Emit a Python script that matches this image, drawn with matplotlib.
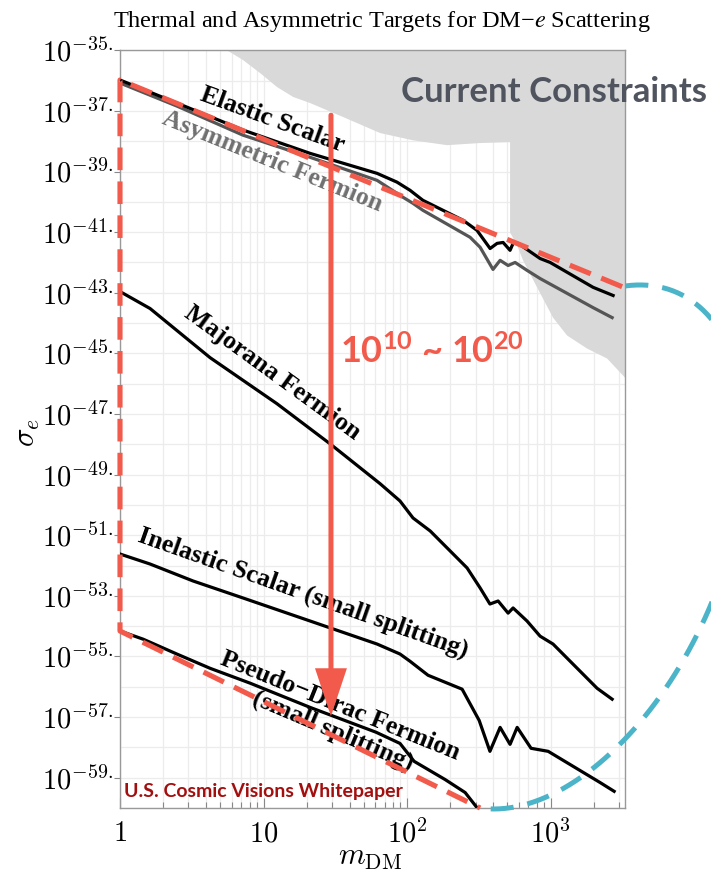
import numpy as np
import matplotlib
matplotlib.use("Agg")
import matplotlib.pyplot as plt
from matplotlib.patches import FancyArrowPatch

# ---------------- data ----------------
elastic_m = [1, 2.49, 7.19, 21.1, 61.8, 85.1, 105, 129, 246, 307, 379, 424, 467, 522, 548, 594, 845, 993, 1977, 2727]
elastic_logsig = [-35.98, -36.74, -37.63, -38.40, -39.06, -39.35, -39.62, -39.95, -40.61, -40.94,
                  -41.54, -41.37, -41.34, -41.60, -41.37, -41.37, -41.87, -42.00, -42.82, -43.09]

asym_m = [1, 2.49, 7.19, 21.1, 61.8, 93.8, 110, 129, 275, 323, 397, 445, 506, 566, 685, 845, 1977, 2685]
asym_logsig = [-36.08, -36.84, -37.80, -38.53, -39.29, -39.85, -40.05, -40.28, -41.17, -41.50,
               -42.23, -41.93, -42.10, -42.00, -42.26, -42.53, -43.49, -43.82]

majorana_m = [1, 1.62, 4.24, 12.4, 29.0, 64.9, 89.3, 110, 145, 262, 323, 378, 431, 506, 548, 685, 845, 1040, 2109, 2685]
majorana_logsig = [-42.96, -43.52, -45.14, -46.66, -47.98, -49.30, -49.87, -50.43, -50.86, -52.08,
                   -52.74, -53.27, -53.17, -53.57, -53.40, -53.83, -54.33, -54.59, -56.05, -56.41]

inelastic_m = [1, 1.62, 3.23, 7.19, 21.1, 61.8, 89.3, 105, 140, 242, 318, 378, 445, 522, 585, 731, 962, 2213, 2773]
inelastic_logsig = [-51.62, -51.95, -52.51, -53.07, -53.83, -54.59, -54.92, -55.16, -55.62, -56.08,
                    -57.11, -58.13, -57.34, -57.90, -57.34, -58.03, -58.13, -59.16, -59.45]

pseudo_m = [1, 1.45, 2.49, 4.24, 8.05, 21.1, 60.8, 89.3, 112, 184, 254, 318]
pseudo_logsig = [-54.16, -54.43, -54.92, -55.39, -55.88, -56.68, -57.50, -57.87, -58.46, -59.06, -59.49, -60.08]

constraint_m = [5.57, 7.19, 9.46, 12.4, 16.1, 21.1, 35.8, 64.9, 110, 190, 323, 522,
                522, 585, 643, 805, 1040, 1303, 1795, 2477, 3300, 3300]
constraint_logsig = [-35.0, -35.32, -35.75, -36.21, -36.54, -36.74, -37.20, -37.73, -37.97, -38.13, -38.06, -38.03,
                     -41.01, -41.44, -41.93, -42.82, -43.82, -44.41, -44.84, -45.17, -45.80, -35.0]

# red dashed guide (top diagonal -> left edge -> bottom diagonal)
guide_m = [3150, 1, 1, 323]
guide_logsig = [-42.80, -35.98, -54.16, -60.0]

# red arrow
arrow_m = 29.5
arrow_logsig_top = -37.14
arrow_logsig_tip = -56.97

x_ticks = [1, 10, 100, 1000]
x_ticklabels = [r'$1$', r'$10$', r'$10^2$', r'$10^3$']
y_tick_exps = list(range(-59, -34, 2))

RED = '#F25A4B'
BLUE = '#4BB4C8'

plt.rcParams['mathtext.fontset'] = 'cm'

W, H = 711, 892
fig = plt.figure(figsize=(W / 100, H / 100), dpi=100)
ax_l, ax_r, ax_t, ax_b = 120, 625, 50.3, 808
ax = fig.add_axes([ax_l / W, 1 - ax_b / H, (ax_r - ax_l) / W, (ax_b - ax_t) / H])
ax.set_xscale('log')
ax.set_yscale('log')
ax.set_xlim(1, 3300)
ax.set_ylim(1e-60, 1e-35)
ax.set_axisbelow(True)

# ticks and grid
ax.set_xticks(x_ticks)
ax.set_xticklabels(x_ticklabels, fontsize=20.5)
xminor = [k * 10.0 ** d for d in range(0, 4) for k in range(2, 10) if k * 10.0 ** d < 3300]
ax.set_xticks(xminor, minor=True)
ax.set_xticklabels([], minor=True)
ax.set_yticks([10.0 ** e for e in y_tick_exps])
ax.set_yticklabels([r'$10^{%d.}$' % e for e in y_tick_exps], fontsize=20.5)
ax.set_yticks([10.0 ** e for e in range(-60, -34, 2)], minor=True)
ax.set_yticklabels([], minor=True)
ax.tick_params(axis='x', which='major', direction='in', length=7, width=0.8, color='#888888', pad=8)
ax.tick_params(axis='x', which='minor', direction='in', length=4, width=0.8, color='#888888')
ax.tick_params(axis='y', which='major', direction='out', length=4, width=0.8, color='#888888', pad=1)
ax.tick_params(axis='y', which='minor', length=0)
ax.grid(True, which='both', color='#ececec', lw=0.9)
for s in ax.spines.values():
    s.set_color('#999999')
    s.set_linewidth(1.0)

# constraints region
ax.fill(constraint_m, 10.0 ** np.array(constraint_logsig), color='#d9d9d9', lw=0, zorder=1)

# curves
ax.plot(asym_m, 10.0 ** np.array(asym_logsig), color='#555555', lw=2.3, zorder=3, solid_joinstyle='round')
ax.plot(elastic_m, 10.0 ** np.array(elastic_logsig), color='black', lw=2.3, zorder=3, solid_joinstyle='round')
ax.plot(majorana_m, 10.0 ** np.array(majorana_logsig), color='black', lw=2.3, zorder=3, solid_joinstyle='round')
ax.plot(inelastic_m, 10.0 ** np.array(inelastic_logsig), color='black', lw=2.3, zorder=3, solid_joinstyle='round')
ax.plot(pseudo_m, 10.0 ** np.array(pseudo_logsig), color='black', lw=2.3, zorder=3, solid_joinstyle='round')

# red dashed guide
ax.plot(guide_m, 10.0 ** np.array(guide_logsig), color=RED, lw=3.7, dashes=(4.4, 2.2),
        clip_on=False, zorder=5, solid_capstyle='butt', dash_capstyle='butt')

# blue dashed arc (annotation, axes-fraction coordinates)
t = np.radians(np.linspace(95, -95, 300))
cx, cy = 0.885, 0.3445
ux = 0.3248
vx, vy = 0.1446, 0.3458
ax.plot(cx + ux * np.cos(t) + vx * np.sin(t), cy + vy * np.sin(t), transform=ax.transAxes,
        color=BLUE, lw=3.6, dashes=(4.6, 2.8), clip_on=False, zorder=5, dash_capstyle='butt')

# red arrow
arr = FancyArrowPatch((arrow_m, 10.0 ** arrow_logsig_top), (arrow_m, 10.0 ** arrow_logsig_tip),
                      arrowstyle='-|>,head_length=1.35,head_width=0.45', mutation_scale=20,
                      lw=3.6, color=RED, shrinkA=0, shrinkB=0, zorder=6, joinstyle='miter')
ax.add_patch(arr)

# curve labels
lab = dict(family='Liberation Serif', fontweight='bold', fontsize=18.5, ha='center', va='center',
           rotation_mode='anchor', zorder=4)
ax.text(11.5, 10 ** -37.30, 'Elastic Scalar', rotation=-20, color='black', **lab)
ax.text(11.6, 10 ** -38.66, 'Asymmetric Fermion', rotation=-22, color='#707070', **lab)
ax.text(11.5, 10 ** -45.63, 'Majorana Fermion', rotation=-36, color='black', **lab)
ax.text(18.8, 10 ** -52.91, 'Inelastic Scalar (small splitting)', rotation=-19.5, color='black', **lab)
ax.text(34.1, 10 ** -56.64, 'Pseudo\u2212Dirac Fermion', rotation=-22, color='black', **lab)
ax.text(30.5, 10 ** -57.47, '(small splitting)', rotation=-23, color='black', **lab)

# annotation texts
fig.text(401 / W, 1 - 102 / H, 'Current Constraints', family='Lato', fontweight='bold', fontsize=25,
         color='#50545E', ha='left', va='baseline', zorder=7)
fig.text(340 / W, 1 - 363 / H, r'$\mathregular{10^{10}}$ ~ $\mathregular{10^{20}}$', family='Lato',
         fontweight='bold', fontsize=26, color=RED, ha='left', va='baseline', zorder=7)
fig.text(124 / W, 1 - 797 / H, 'U.S. Cosmic Visions Whitepaper', family='Lato', fontweight='bold',
         fontsize=14, color='#A30F0F', ha='left', va='baseline', zorder=7)

# title and axis labels
ttl = fig.text(382 / W, 1 - 27 / H, 'Thermal and Asymmetric Targets for DM\u2212$e$ Scattering',
               family='Liberation Serif', fontsize=17.5, ha='center', va='baseline')
ttl.set_math_fontfamily('stix')
fig.text(28 / W, 1 - 433 / H, r'$\sigma_e$', rotation=90, ha='center', va='center', fontsize=22)
fig.text(370 / W, 1 - 858 / H, r'$m_{\mathrm{DM}}$', ha='center', va='center', fontsize=22)

fig.savefig('out.png', dpi=100)
